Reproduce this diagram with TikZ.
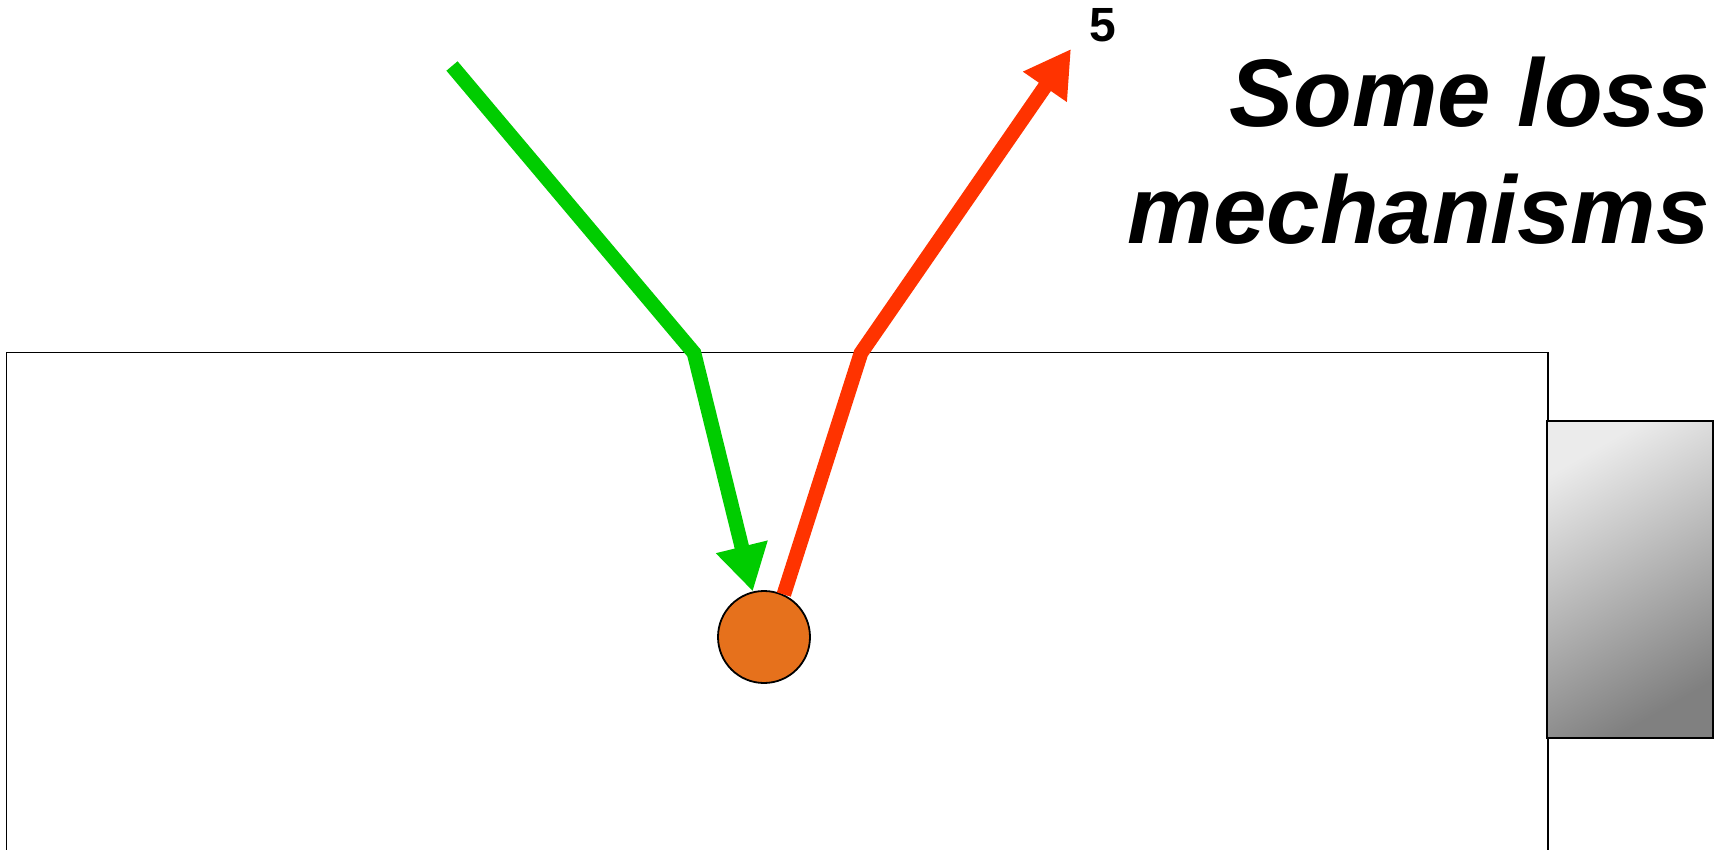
\documentclass[tikz,border=0pt]{standalone}
\usepackage{fontspec}
\setmainfont{Liberation Sans}
\usetikzlibrary{arrows.meta}
\definecolor{lgreen}{HTML}{00CC00}
\definecolor{lred}{HTML}{FF3300}
\definecolor{lorange}{HTML}{E6711C}
\tikzset{
  ray/.style={line width=7.3pt, line join=miter, -{Triangle[length=23pt,width=25pt]}},
  title/.style={inner sep=0pt, font=\fontsize{48}{56}\selectfont\bfseries\itshape, anchor=base east},
}
\begin{document}
\begin{tikzpicture}[x=0.5pt,y=-0.5pt]
\useasboundingbox (0,0) rectangle (1717,850);
\clip (0,0) rectangle (1717,850);
% substrate
\node[draw, line width=0.8pt, minimum width=770.7pt, minimum height=323.7pt, inner sep=0pt] (slab) at (777.3,676.3) {};
% mirror / detector block
\node[draw, line width=1pt, minimum width=83pt, minimum height=158.5pt, inner sep=0pt,
      shading=axis, top color=black!8, bottom color=black!50, shading angle=30] (block) at (1630,579.5) {};
% particle
\node[draw, circle, fill=lorange, line width=0.9pt, minimum size=46pt, inner sep=0pt] (dot) at (764,637) {};
% ray coordinates
\coordinate (gs) at (452,66);
\coordinate (gb) at (694,353);
\coordinate (rb) at (861,353);
\coordinate (re) at (1071,49);
\draw[ray, lgreen] (gs) -- (gb) -- (dot);
\draw[ray, lred] (dot.65) -- (rb) -- (re);
% labels
\node[inner sep=0pt, font=\fontsize{24}{27}\selectfont\bfseries] (num) at (1103,25) {5};
\node[title] (t1) at (1710,127) {Some loss};
\node[title] (t2) at (1710,243) {mechanisms};
\end{tikzpicture}
\end{document}
